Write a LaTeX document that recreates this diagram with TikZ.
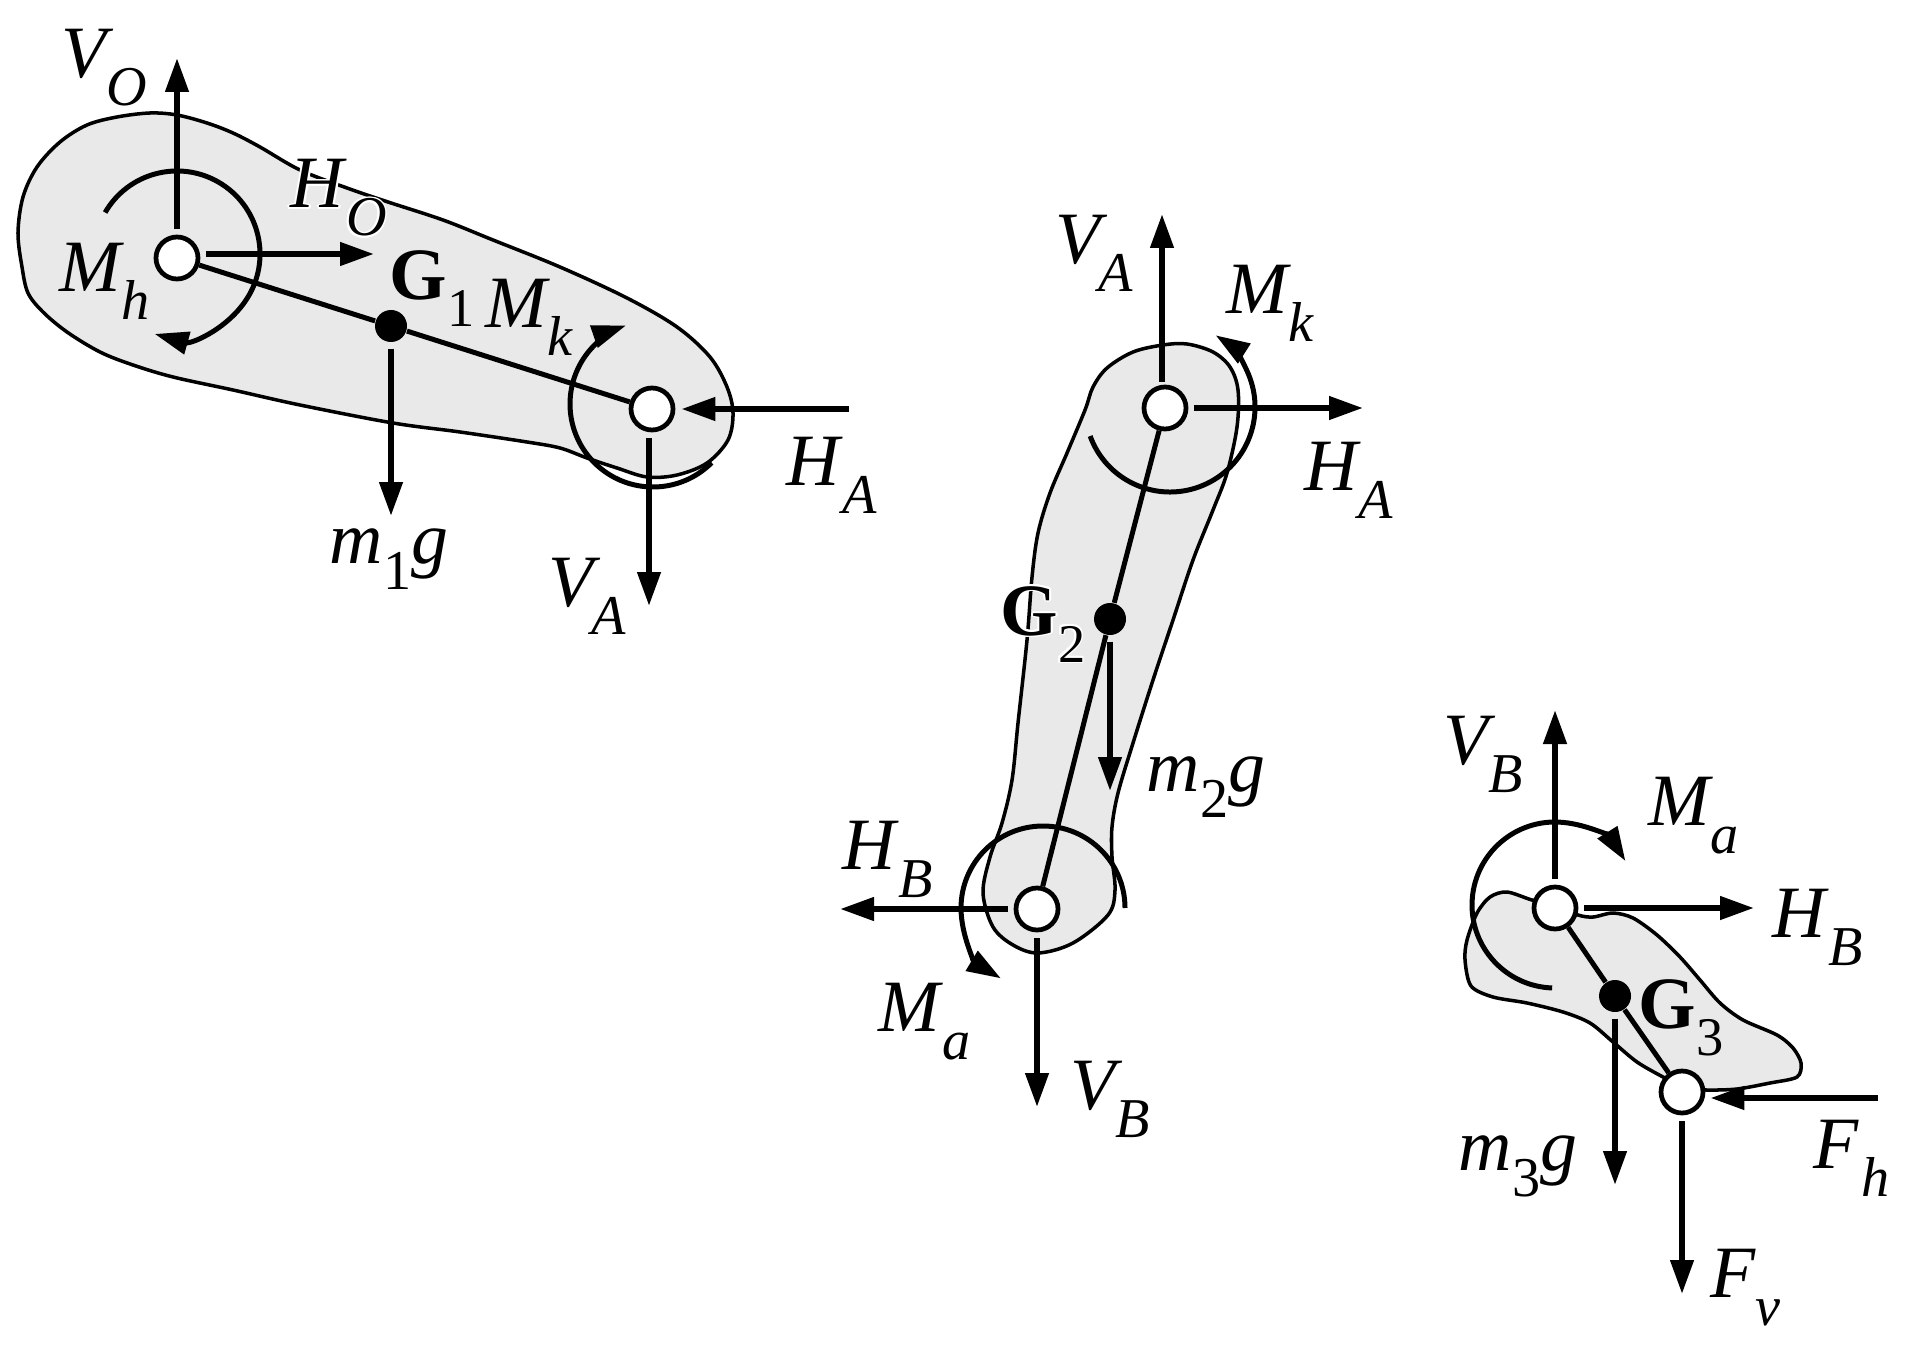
\documentclass[tikz,border=0pt]{standalone}
\usepackage{fontspec}
\setmainfont{Liberation Serif}
\usepackage[copies]{contour}
\usetikzlibrary{arrows.meta}
\contourlength{0.5pt}
\definecolor{bodygray}{HTML}{E9E9E9}
\newcommand{\forcelabel}[3][0pt]{{\fontsize{21}{21}\selectfont\itshape #2\kern#1\raisebox{-2.8mm}{\fontsize{16}{16}\selectfont #3}}}
\newcommand{\masslabel}[1]{{\fontsize{21}{21}\selectfont\itshape m\raisebox{-2.6mm}{\fontsize{16}{16}\selectfont\upshape #1}g}}
\newcommand{\comlabel}[1]{{\fontsize{21}{21}\selectfont\bfseries G\raisebox{-2.7mm}{\fontsize{15.5}{15.5}\selectfont\mdseries #1}}}
\tikzset{
    >={Triangle[length=3.4mm,width=2.25mm]},
    body/.style={draw, fill=bodygray, line width=1pt},
    link/.style={line width=1.42pt},
    force/.style={line width=1.7pt, shorten <=0.6mm},
    moment/.style={line width=1.42pt},
    pin/.style={circle, draw, fill=white, line width=1.35pt, inner sep=0pt, minimum size=4.2mm},
    com/.style={circle, fill=black, inner sep=0pt, minimum size=3.2mm},
    lbl/.style={anchor=base west, inner sep=0pt}
}
\begin{document}
\begin{tikzpicture}
    \useasboundingbox (0,0) rectangle (19.12,13.53);
    % thigh
    \draw[body] plot[smooth cycle, tension=0.55] coordinates {(1.50,12.40) (1.77,12.38) (2.07,12.30) (2.33,12.20) (2.60,12.06) (3.00,11.83) (3.47,11.65) (3.88,11.51) (4.43,11.33) (4.93,11.13) (5.60,10.86) (6.27,10.55) (6.77,10.26) (7.10,9.96) (7.27,9.66) (7.33,9.40) (7.28,9.13) (7.07,8.90) (6.77,8.78) (6.47,8.76) (6.17,8.85) (5.87,8.95) (5.60,9.05) (5.27,9.11) (4.60,9.21) (3.93,9.30) (3.00,9.48) (2.33,9.63) (1.73,9.76) (1.33,9.88) (1.00,10.01) (0.67,10.21) (0.43,10.41) (0.28,10.60) (0.22,10.86) (0.18,11.20) (0.23,11.56) (0.37,11.86) (0.60,12.11) (0.87,12.28) (1.17,12.36)};
    \node[pin] (O1) at (1.77,10.95) {};
    \node[pin] (A1) at (6.52,9.44) {};
    \node[com] (G1) at (3.91,10.27) {};
    \draw[link] (O1) -- (G1) -- (A1); % thigh axis
    \coordinate (O1c) at (1.77,10.99);
    \coordinate (A1c) at (6.53,9.49);
    \draw[moment,->] ([shift={(150:0.83)}]O1c) arc[start angle=150, end angle=-105.6, radius=0.83]; % hip moment
    \draw[moment,->] ([shift={(-45:0.83)}]A1c) arc[start angle=-45, end angle=-251, radius=0.83]; % knee moment
    \coordinate (VOtip) at (1.77,12.95);
    \coordinate (HOtip) at (3.74,10.99);
    \coordinate (W1tip) at (3.91,8.37);
    \coordinate (HA1end) at (8.55,9.44);
    \coordinate (VA1tip) at (6.49,7.47);
    \draw[force,->] (O1) -- (VOtip);
    \draw[force,->] (O1.east |- HOtip) -- (HOtip);
    \draw[force,->] (G1) -- (W1tip); % weight
    \draw[force,->, shorten >=0.6mm] (HA1end) -- (A1);
    \draw[force,->] (A1.south -| VA1tip) -- (VA1tip);
    \node[lbl] (VOlbl) at (0.61,12.75) {\forcelabel{V}{O}};
    \node[lbl] (HOlbl) at (2.90,11.45) {\contour{white}{\forcelabel[0.2mm]{H}{O}}};
    \node[lbl] (Mhlbl) at (0.59,10.61) {\forcelabel{M}{h}};
    \node[lbl] (G1lbl) at (3.89,10.53) {\comlabel{1}};
    \node[lbl] (Mk1lbl) at (4.85,10.25) {\forcelabel{M}{k}};
    \node[lbl] (HA1lbl) at (7.86,8.68) {\forcelabel[0.2mm]{H}{A}};
    \node[lbl] (W1lbl) at (3.29,7.90) {\masslabel{1}};
    \node[lbl] (VA1lbl) at (5.48,7.47) {\forcelabel[-0.2mm]{V}{A}};
    % shank
    \draw[body] plot[smooth cycle, tension=0.55] coordinates {(11.63,10.08) (11.87,10.09) (12.13,10.01) (12.30,9.86) (12.38,9.63) (12.37,9.26) (12.27,8.80) (12.13,8.43) (11.93,7.93) (11.73,7.33) (11.53,6.73) (11.33,6.10) (11.18,5.60) (11.12,5.26) (11.12,4.96) (11.15,4.63) (11.08,4.38) (10.73,4.10) (10.38,4.00) (10.13,4.08) (9.93,4.26) (9.83,4.60) (9.90,4.96) (10.02,5.30) (10.12,5.73) (10.18,6.30) (10.27,7.13) (10.32,7.76) (10.38,8.20) (10.50,8.60) (10.67,9.00) (10.85,9.43) (10.93,9.66) (11.07,9.85) (11.33,10.01)};
    \node[pin] (A2) at (11.65,9.45) {};
    \node[pin] (B2) at (10.37,4.44) {};
    \node[com] (G2) at (11.10,7.34) {};
    \draw[link] (A2) -- (G2) -- (B2); % shank axis
    \coordinate (A2c) at (11.70,9.46);
    \coordinate (B2c) at (10.43,4.45);
    \draw[moment,->] ([shift={(200:0.85)}]A2c) arc[start angle=200, end angle=417.5, radius=0.85]; % knee moment
    \draw[moment,->] ([shift={(0:0.82)}]B2c) arc[start angle=0, end angle=239, radius=0.82]; % ankle moment
    \coordinate (VA2tip) at (11.62,11.39);
    \coordinate (HA2tip) at (13.63,9.45);
    \coordinate (W2tip) at (11.10,5.62);
    \coordinate (HB2tip) at (8.40,4.44);
    \coordinate (VB2tip) at (10.37,2.46);
    \draw[force,->, shorten <=0.3mm] (A2.north -| VA2tip) -- (VA2tip);
    \draw[force,->] (A2) -- (HA2tip);
    \draw[force,->] (G2) -- (W2tip); % weight
    \draw[force,->] (B2) -- (HB2tip);
    \draw[force,->] (B2) -- (VB2tip);
    \node[lbl] (VA2lbl) at (10.55,10.89) {\forcelabel[-0.2mm]{V}{A}};
    \node[lbl] (Mk2lbl) at (12.26,10.39) {\forcelabel{M}{k}};
    \node[lbl] (HA2lbl) at (13.04,8.63) {\forcelabel{H}{A}};
    \node[lbl] (G2lbl) at (10.00,7.18) {\contour{white}{\comlabel{2}}};
    \node[lbl] (W2lbl) at (11.46,5.62) {\masslabel{2}};
    \node[lbl] (HB2lbl) at (8.42,4.84) {\forcelabel[0.2mm]{H}{B}};
    \node[lbl] (Ma2lbl) at (8.78,3.22) {\forcelabel[0.2mm]{M}{a}};
    \node[lbl] (VB2lbl) at (10.70,2.44) {\forcelabel{V}{B}};
    % foot
    \draw[body] plot[smooth cycle, tension=0.5] coordinates {(15.32,4.53) (15.07,4.61) (14.90,4.56) (14.77,4.40) (14.67,4.13) (14.65,3.93) (14.71,3.67) (14.93,3.56) (15.27,3.50) (15.63,3.41) (15.90,3.30) (16.13,3.11) (16.37,2.91) (16.63,2.76) (16.85,2.65) (17.07,2.63) (17.37,2.64) (17.70,2.70) (17.97,2.76) (18.01,2.90) (17.93,3.05) (17.77,3.18) (17.43,3.33) (17.20,3.50) (17.00,3.73) (16.80,3.96) (16.57,4.18) (16.33,4.35) (16.13,4.40) (15.93,4.36) (15.78,4.38) (15.55,4.48)};
    \node[pin] (B3) at (15.55,4.45) {};
    \node[pin] (F3) at (16.82,2.61) {};
    \node[com] (G3) at (16.15,3.57) {};
    \draw[link] (B3) -- (G3) -- (F3); % foot axis
    \coordinate (B3c) at (15.55,4.48);
    \draw[moment,->] ([shift={(268:0.83)}]B3c) arc[start angle=268, end angle=32, radius=0.83]; % ankle moment
    \coordinate (VB3tip) at (15.55,6.43);
    \coordinate (HB3tip) at (17.54,4.45);
    \coordinate (W3tip) at (16.15,1.68);
    \coordinate (Fhend) at (18.84,2.55);
    \coordinate (Fvtip) at (16.82,0.59);
    \draw[force,->] (B3) -- (VB3tip);
    \draw[force,->] (B3) -- (HB3tip);
    \draw[force,->] (G3) -- (W3tip); % weight
    \draw[force,->, shorten >=0.5mm] (Fhend) -- (F3.east |- Fhend); % ground reaction
    \draw[force,->] (F3) -- (Fvtip); % ground reaction
    \node[lbl] (VB3lbl) at (14.43,5.89) {\forcelabel{V}{B}};
    \node[lbl] (Ma3lbl) at (16.48,5.28) {\forcelabel{M}{a}};
    \node[lbl] (HB3lbl) at (17.72,4.16) {\forcelabel[0.2mm]{H}{B}};
    \node[lbl] (G3lbl) at (16.38,3.25) {\comlabel{3}};
    \node[lbl] (W3lbl) at (14.58,1.83) {\masslabel{3}};
    \node[lbl] (Fhlbl) at (18.13,1.85) {\forcelabel[0.3mm]{F}{h}};
    \node[lbl] (Fvlbl) at (17.10,0.56) {\forcelabel{F}{v}};
\end{tikzpicture}
\end{document}
